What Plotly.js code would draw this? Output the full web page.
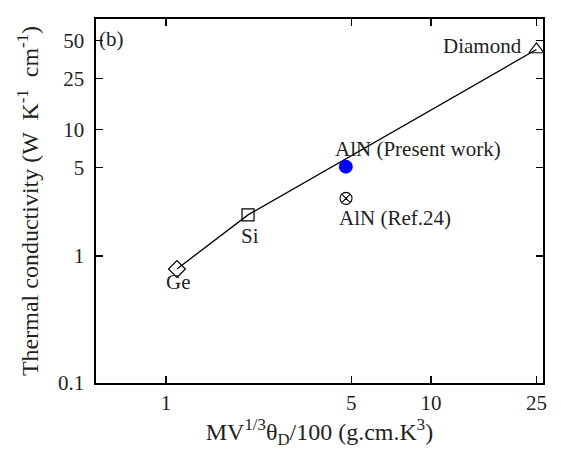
<!DOCTYPE html>
<html>
<head>
<meta charset="utf-8">
<script src="https://cdn.plot.ly/plotly-3.0.1.min.js"></script>
<style>html,body{margin:0;padding:0;background:#fff;}#plot{width:561px;height:450px;}</style>
</head>
<body>
<div id="plot"></div>
<script>
// Data
const labels = ['Ge', 'Si', 'AlN (Present work)', 'AlN (Ref.24)', 'Diamond'];
const xVals = [1.10, 2.04, 4.77, 4.78, 25.0];
const yVals = [0.79, 2.11, 5.07, 2.85, 42.6];
const lineMembers = ['Ge', 'Si', 'Diamond'];
const xTicks = [1, 5, 10, 25];
const yTicks = [0.1, 1, 5, 10, 25, 50];

const FONT = 'Liberation Serif';
const TXT = '#231f20';

const idx = n => labels.indexOf(n);
const lineX = lineMembers.map(n => xVals[idx(n)]);
const lineY = lineMembers.map(n => yVals[idx(n)]);

const markerStyle = {
  'Ge': {symbol: 'diamond-open', size: 13, color: '#000', lw: 1.2},
  'Si': {symbol: 'square-open', size: 12, color: '#000', lw: 1.2},
  'AlN (Present work)': {symbol: 'circle', size: 14, color: '#0000ff', lw: 0},
  'AlN (Ref.24)': {symbol: 'circle-x-open', size: 12, color: '#000', lw: 1.1},
  'Diamond': {symbol: 'triangle-up-open', size: 13, color: '#000', lw: 1.2}
};

const traces = [{
  x: lineX, y: lineY, mode: 'lines', type: 'scatter',
  line: {color: '#000', width: 1.3}, hoverinfo: 'skip', showlegend: false
}];
labels.forEach((n, i) => {
  const s = markerStyle[n];
  traces.push({
    x: [xVals[i]], y: [yVals[i]], mode: 'markers', type: 'scatter', name: n,
    marker: {symbol: s.symbol, size: s.size, color: s.color, line: {color: s.color, width: s.lw}},
    showlegend: false
  });
});

// label placement (pixels relative to point)
const labelPos = {
  'Ge': {xanchor: 'center', xshift: 2, yshift: -13},
  'Si': {xanchor: 'center', xshift: 2, yshift: -21},
  'AlN (Present work)': {xanchor: 'left', xshift: -13, yshift: 18},
  'AlN (Ref.24)': {xanchor: 'left', xshift: -9, yshift: -20},
  'Diamond': {xanchor: 'right', xshift: -12, yshift: 3}
};
const annotations = labels.map((n, i) => ({
  x: Math.log10(xVals[i]), y: Math.log10(yVals[i]), xref: 'x', yref: 'y',
  text: n, showarrow: false, yanchor: 'middle',
  xanchor: labelPos[n].xanchor, xshift: labelPos[n].xshift, yshift: labelPos[n].yshift,
  font: {family: FONT, size: 21, color: TXT}
}));
annotations.push({
  xref: 'paper', yref: 'paper', x: 0, y: 1, xanchor: 'left', yanchor: 'top',
  xshift: 1, yshift: -6, text: '(b)', showarrow: false,
  font: {family: FONT, size: 21, color: TXT}
});

const axisCommon = {
  type: 'log', showgrid: false, zeroline: false,
  showline: true, linecolor: '#000', linewidth: 1.6, mirror: 'ticks',
  ticks: 'inside', ticklen: 7, tickwidth: 1.3, tickcolor: '#000',
  tickfont: {family: FONT, size: 21, color: TXT}
};

const layout = {
  width: 561, height: 450,
  margin: {l: 96, r: 18, t: 19, b: 67},
  paper_bgcolor: '#fff', plot_bgcolor: '#fff',
  showlegend: false,
  font: {family: FONT, color: TXT},
  xaxis: Object.assign({}, axisCommon, {
    range: [-0.264, 1.4226],
    tickmode: 'array', tickvals: xTicks, ticktext: xTicks.map(String),
    ticklabelstandoff: 0,
    title: {text: 'MV<sup>1/3</sup>θ<sub>D</sub>/100 (g.cm.K<sup>3</sup>)', font: {family: FONT, size: 24, color: TXT}, standoff: 4}
  }),
  yaxis: Object.assign({}, axisCommon, {
    range: [-1.002, 1.87],
    tickmode: 'array', tickvals: yTicks, ticktext: yTicks.map(String),
    ticklabelstandoff: 6,
    title: {text: 'Thermal conductivity (W  K<sup>-1</sup>  cm<sup>-1</sup>)', font: {family: FONT, size: 24, color: TXT}, standoff: 12}
  }),
  annotations: annotations
};

Plotly.newPlot('plot', traces, layout, {staticPlot: true, displayModeBar: false});
</script>
</body>
</html>
